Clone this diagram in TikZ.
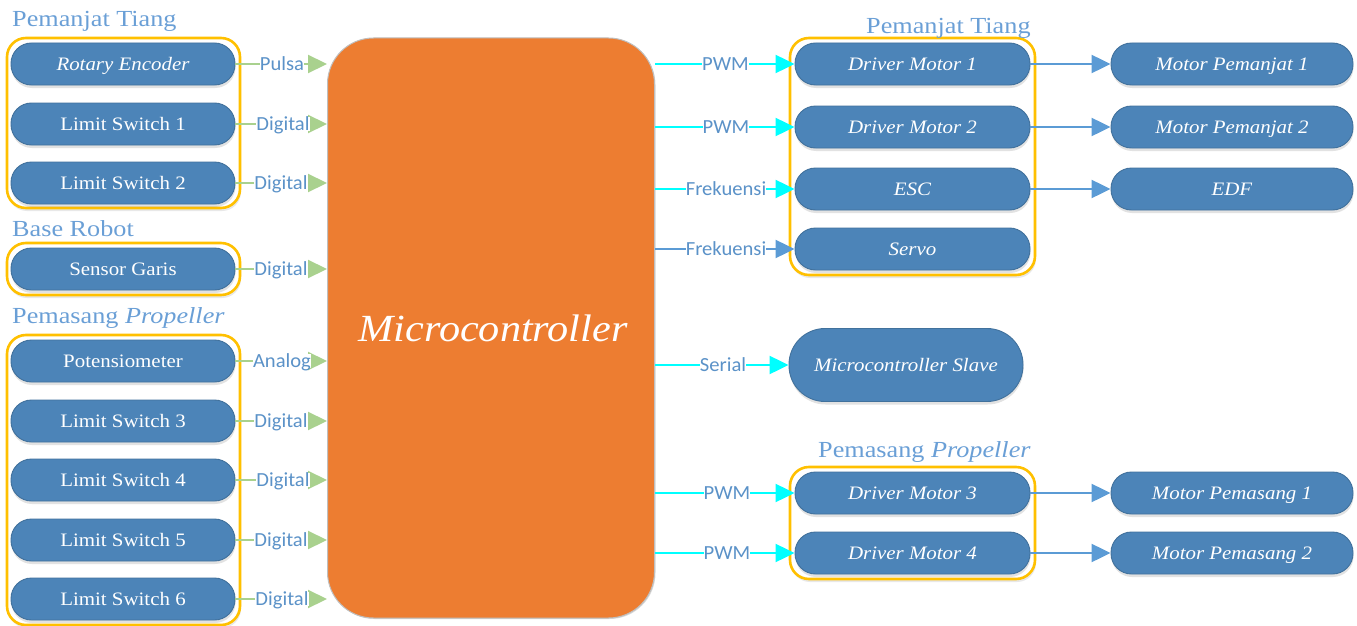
\documentclass[tikz,border=0pt]{standalone}
\usepackage{fontspec}
\setmainfont[FakeStretch=1.1]{Liberation Serif}
\newfontfamily\titlefont[FakeStretch=1.14]{Liberation Serif}
\newfontfamily\labfont[FakeStretch=1.03]{Carlito}
\usetikzlibrary{shadows,arrows.meta,calc}
\definecolor{pillfill}{HTML}{4C84B8}
\definecolor{pilledge}{HTML}{41719C}
\definecolor{labtext}{HTML}{5B92C8}
\definecolor{titletext}{HTML}{6A9FD6}
\definecolor{greenline}{HTML}{A9D18E}
\definecolor{cyanline}{HTML}{00FFFF}
\definecolor{blueline}{HTML}{5B9BD5}
\definecolor{mcorange}{HTML}{ED7D31}
\definecolor{groupyellow}{HTML}{FFC000}
\tikzset{
  softshadow/.style={drop shadow={shadow xshift=0.5pt,shadow yshift=-3pt,opacity=0.16,fill=black!70}},
  pill/.style={rectangle,rounded corners=20.5pt,draw=pilledge,line width=0.9pt,fill=pillfill,text=white,font=\fontsize{19}{20}\selectfont,
    minimum height=42pt,inner sep=0pt,text height=13pt,text depth=0.5pt,softshadow},
  leftpill/.style={pill,minimum width=224pt},
  rightpill/.style={pill,minimum width=235pt},
  motorpill/.style={pill,minimum width=242pt},
  groupbox/.style={rectangle,draw=groupyellow,line width=2.6pt,rounded corners=19pt,fill=white,inner sep=0pt,
    drop shadow={shadow xshift=1pt,shadow yshift=-3pt,opacity=0.15,fill=black!60}},
  mcbox/.style={rectangle,draw=black!25,line width=1pt,fill=mcorange,rounded corners=46pt,text=white,inner sep=0pt,
    minimum width=327pt,minimum height=580pt,font=\itshape\fontsize{38.4}{40}\selectfont,drop shadow={shadow xshift=1pt,shadow yshift=-1pt,opacity=0.25,fill=black!60}},
  slavebox/.style={pill,rounded corners=36pt,minimum width=234pt,minimum height=73pt},
  title/.style={text=titletext,anchor=west,inner sep=0pt,text height=16pt,text depth=1pt,font=\titlefont\fontsize{23}{24}\selectfont},
  lab/.style={fill=white,text=labtext,inner sep=0pt,text height=13pt,text depth=0.5pt,font=\labfont\fontsize{20}{21}\selectfont},
  greenarrow/.style={draw=greenline,line width=2.2pt,-{Triangle[length=19pt,width=18pt,fill=greenline]}},
  cyanarrow/.style={draw=cyanline,line width=2.2pt,-{Triangle[length=19pt,width=18pt,fill=cyanline]}},
  bluearrow/.style={draw=blueline,line width=2.2pt,-{Triangle[length=19pt,width=18pt,fill=blueline]}},
}
\begin{document}
\begin{tikzpicture}[x=1pt,y=-1pt]
\useasboundingbox (0,0) rectangle (1357,626);
\clip (0,0) rectangle (1357,626);
% groups
\node[groupbox,minimum width=233pt,minimum height=170pt] (g1) at (123.5,123) {};
\node[groupbox,minimum width=233pt,minimum height=52pt] (g2) at (123.5,269) {};
\node[groupbox,minimum width=233pt,minimum height=290pt] (g3) at (123.5,480) {};
\node[groupbox,minimum width=245pt,minimum height=237pt] (g4) at (912.5,156.5) {};
\node[groupbox,minimum width=245pt,minimum height=112pt] (g5) at (912.5,523) {};
% titles
\node[title] (t1) at (12,19) {Pemanjat Tiang};
\node[title] (t2) at (12,229) {Base Robot};
\node[title] (t3) at (12,316) {Pemasang \textit{Propeller}};
\node[title] (t4) at (866,26) {Pemanjat Tiang};
\node[title] (t5) at (818,450) {Pemasang \textit{Propeller}};
% microcontroller
\node[mcbox] (mc) at (491,328) {\hspace*{4pt}Microcontroller};
% input pills
\foreach \n/\t/\y/\lx/\l in {
  re/\textit{Rotary Encoder}/64/282/Pulsa,
  ls1/Limit Switch 1/124/283/Digital,
  ls2/Limit Switch 2/183/281/Digital,
  sg/Sensor Garis/269/281/Digital,
  pot/Potensiometer/361/282/Analog,
  ls3/Limit Switch 3/421/281/Digital,
  ls4/Limit Switch 4/480/283/Digital,
  ls5/Limit Switch 5/540/281/Digital,
  ls6/Limit Switch 6/599/282/Digital}{
  \node[leftpill] (\n) at (123,\y) {\t};
  \draw[greenarrow] (\n.east) -- (\n.east -| mc.west) ;
  \node[lab] (lab\n) at (\lx,\y) {\l};
}
% driver pills
\foreach \n/\t/\y/\lx/\l/\sty in {
  dm1/Driver Motor 1/64/725.5/PWM/cyanarrow,
  dm2/Driver Motor 2/127/726/PWM/cyanarrow,
  esc/ESC/189/726/Frekuensi/cyanarrow,
  srv/Servo/249/726/Frekuensi/bluearrow,
  dm3/Driver Motor 3/493/727/PWM/cyanarrow,
  dm4/Driver Motor 4/553/727/PWM/cyanarrow}{
  \node[rightpill] (\n) at (912.5,\y) {\textit{\t}};
  \draw[\sty] (\n.west -| mc.east) -- (\n.west);
  \node[lab] (lab\n) at (\lx,\y) {\l};
}
% slave
\node[slavebox] (sl) at (906,365) {\textit{Microcontroller Slave}};
\draw[cyanarrow] (sl.west -| mc.east) -- (sl.west);
\node[lab] (labsl) at (723,365.5) {Serial};
% motors
\foreach \n/\t/\y/\s in {
  mp1/Motor Pemanjat 1/64/dm1,
  mp2/Motor Pemanjat 2/127/dm2,
  edf/EDF/189/esc,
  ms1/Motor Pemasang 1/493/dm3,
  ms2/Motor Pemasang 2/553/dm4}{
  \node[motorpill] (\n) at (1232,\y) {\textit{\t}};
  \draw[bluearrow] (\s.east) -- (\n.west);
}
\end{tikzpicture}
\end{document}
